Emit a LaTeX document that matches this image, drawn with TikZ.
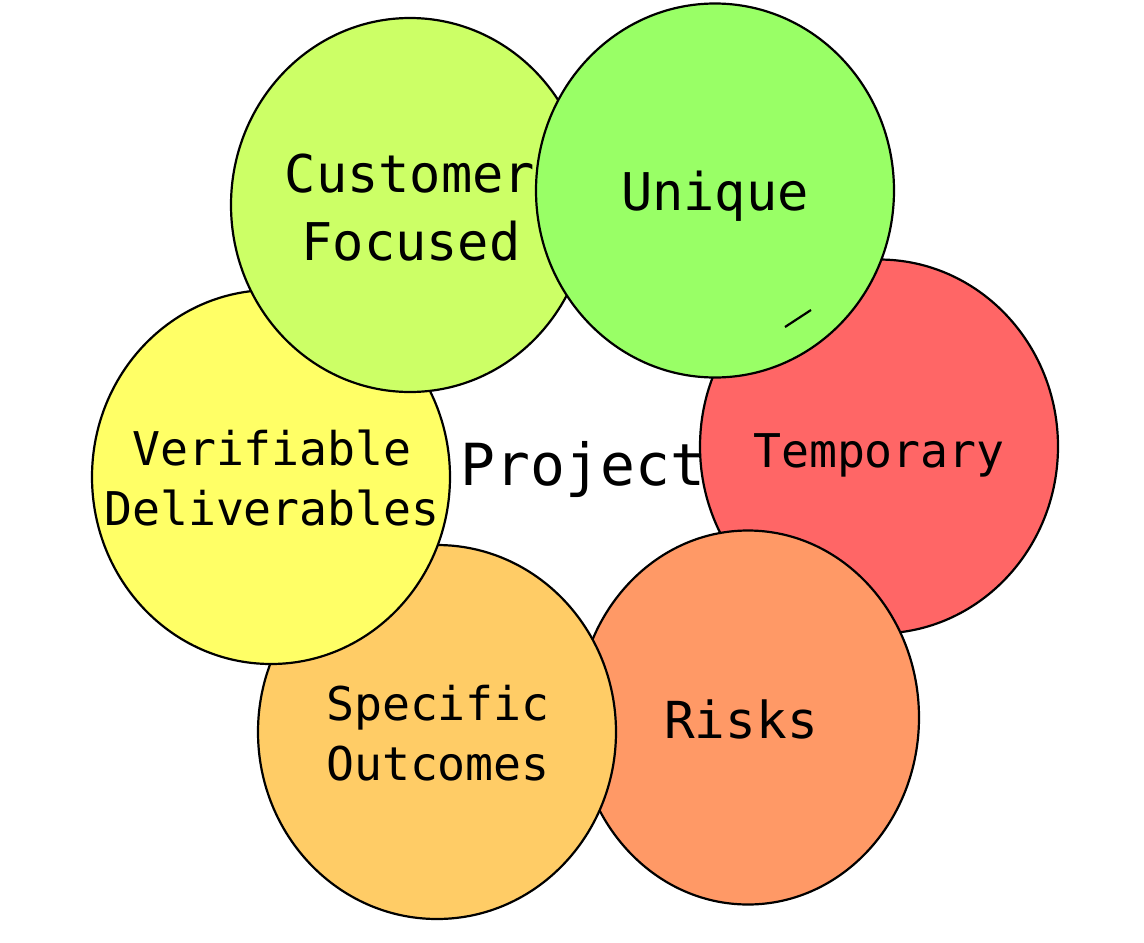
\documentclass[tikz,border=0pt]{standalone}
\usepackage{fontspec}
\newfontfamily\monofnt{DejaVu Sans Mono}
\usetikzlibrary{shapes.geometric}
\definecolor{cCust}{HTML}{CCFF66}
\definecolor{cUniq}{HTML}{99FF66}
\definecolor{cTemp}{HTML}{FF6666}
\definecolor{cRisk}{HTML}{FF9966}
\definecolor{cSpec}{HTML}{FFCC66}
\definecolor{cVeri}{HTML}{FFFF66}
\begin{document}
\begin{tikzpicture}[x=1pt,y=-1pt,
  blob/.style={ellipse,draw=black,line width=2.2pt,minimum width=358pt,minimum height=374pt,inner sep=0pt},
  lbl/.style={font=\monofnt\fontsize{#1}{#1}\selectfont,align=center,inner sep=0pt,anchor=base},
  lbl/.default=46.5]
\useasboundingbox (0,0) rectangle (1144,943);
\fill[white] (0,0) rectangle (1144,943);
% Temporary
\node[blob,fill=cTemp] (temp) at (879,446.5) {};
\node[lbl] (ttemp) at (879,467) {Temporary};
% Risks
\node[blob,fill=cRisk,minimum width=342pt] (risk) at (748,717.5) {};
\node[lbl=51] (trisk) at (741,738) {Risks};
% Specific Outcomes
\node[blob,fill=cSpec] (spec) at (437,732) {};
\node[lbl] (tspec1) at (438,720) {Specific};
\node[lbl] (tspec2) at (438,780) {Outcomes};
% Verifiable Deliverables
\node[blob,fill=cVeri] (veri) at (271,477) {};
\node[lbl] (tveri1) at (272,465) {Verifiable};
\node[lbl] (tveri2) at (272,525) {Deliverables};
% Customer Focused
\node[blob,fill=cCust] (cust) at (410,205) {};
\node[lbl=52] (tcust1) at (410,192) {Customer};
\node[lbl=52] (tcust2) at (411,260) {Focused};
% Unique
\node[blob,fill=cUniq] (uniq) at (715,190.5) {};
\node[lbl=52] (tuniq) at (715,210) {Unique};
\coordinate (m1) at (785,327);
\coordinate (m2) at (811,310);
\draw[line width=2.2pt] (m1) -- (m2);
% Project
\node[lbl=58] (proj) at (583,485) {Project};
\end{tikzpicture}
\end{document}
